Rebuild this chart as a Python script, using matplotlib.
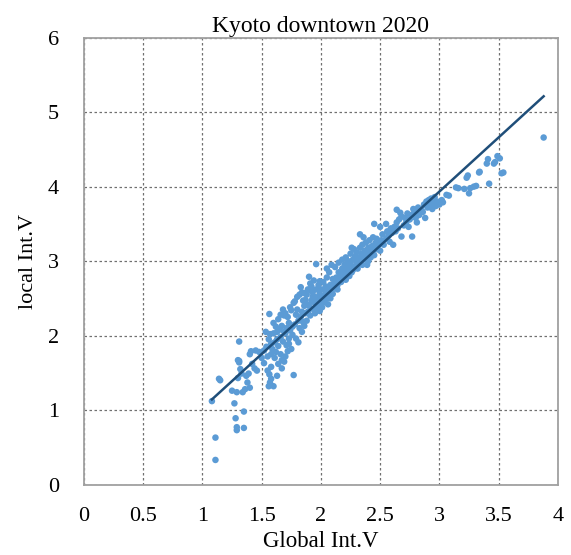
import numpy as np
import matplotlib.pyplot as plt

# valores (Global Int.V x local Int.V)
glob_baixo = [1.11, 1.11, 1.08, 1.14, 1.15, 1.27, 1.28, 1.29, 1.29, 1.35, 1.35, 1.29, 1.34, 1.30, 1.31,
              1.31, 1.31, 1.39, 1.38, 1.40, 1.41, 1.37, 1.33, 1.30, 1.44, 1.46, 1.48, 1.32, 1.36, 1.42,
              1.45, 1.25, 1.40]
loc_baixo = [0.33, 0.63, 1.12, 1.42, 1.40, 1.09, 0.89, 0.77, 0.73, 0.76, 0.98, 1.24, 1.24, 1.67, 1.64,
             1.66, 1.92, 1.49, 1.37, 1.30, 1.79, 1.46, 1.49, 1.43, 1.56, 1.53, 1.78, 1.55, 1.28, 1.62,
             1.80, 1.26, 1.75]

glob_15 = [1.50, 1.52, 1.535, 1.565, 1.56, 1.57, 1.60, 1.55, 1.565, 1.58, 1.63, 1.55, 1.58, 1.61, 1.58,
           1.61, 1.64, 1.60, 1.63, 1.66, 1.64, 1.67, 1.69, 1.66, 1.67, 1.69, 1.70, 1.72, 1.75, 1.73,
           1.70, 1.73, 1.76, 1.70, 1.72, 1.73, 1.71, 1.74, 1.75, 1.77, 1.52, 1.54, 1.56, 1.57, 1.59,
           1.62, 1.63, 1.65, 1.68, 1.69, 1.62, 1.60, 1.66, 1.68, 1.71, 1.74, 1.76, 1.67, 1.77, 1.58,
           1.64]
loc_15 = [1.70, 1.63, 2.05, 2.29, 1.32, 1.37, 1.32, 1.53, 1.48, 1.58, 1.46, 1.72, 1.75, 1.70, 1.89,
          1.91, 1.86, 2.03, 2.05, 1.98, 2.22, 2.13, 2.27, 1.75, 1.67, 1.65, 1.72, 1.79, 1.82, 1.89,
          2.03, 1.96, 2.01, 2.30, 2.25, 2.17, 2.10, 2.38, 2.34, 2.44, 1.80, 1.85, 1.95, 2.02, 1.82,
          1.78, 1.95, 2.08, 1.92, 2.05, 2.12, 2.17, 2.28, 2.35, 1.87, 2.07, 2.12, 1.56, 1.47, 1.42,
          1.62]

glob_18 = [1.78, 1.80, 1.82, 1.83, 1.84, 1.79, 1.81, 1.83, 1.85, 1.82, 1.86, 1.80, 1.78, 1.79, 1.81,
           1.84, 1.86, 1.87, 1.88, 1.89, 1.90, 1.91, 1.92, 1.93, 1.94, 1.95, 1.96, 1.89, 1.90, 1.91,
           1.93, 1.94, 1.95, 1.96, 1.96, 1.97, 1.98, 1.98, 1.99, 2.00, 2.00, 2.01, 2.02, 2.02, 2.03,
           2.04, 2.04, 2.05, 2.06, 2.06, 2.07, 2.08, 2.08, 2.09, 2.10, 2.10, 1.87, 1.88, 1.92, 1.97,
           1.99, 2.01, 2.03, 2.05, 1.85, 1.86, 1.84, 1.88, 1.93, 1.99, 2.00, 2.07, 2.05, 2.09, 1.92,
           1.95]
loc_18 = [2.46, 2.52, 2.55, 2.65, 2.58, 2.28, 2.20, 2.25, 2.18, 2.10, 2.13, 2.35, 2.15, 1.96, 1.91,
          2.32, 2.40, 2.48, 2.55, 2.62, 2.79, 2.70, 2.66, 2.58, 2.74, 2.52, 2.62, 2.32, 2.40, 2.27,
          2.36, 2.45, 2.30, 2.38, 2.96, 2.50, 2.44, 2.68, 2.56, 2.40, 2.62, 2.48, 2.53, 2.72, 2.45,
          2.58, 2.66, 2.50, 2.62, 2.42, 2.55, 2.68, 2.50, 2.60, 2.76, 2.56, 2.30, 2.20, 2.47, 2.36,
          2.33, 2.38, 2.62, 2.78, 2.47, 2.57, 2.05, 2.42, 2.52, 2.73, 2.52, 2.85, 2.90, 2.95, 2.60,
          2.45]

glob_21 = [2.11, 2.12, 2.12, 2.13, 2.14, 2.15, 2.15, 2.16, 2.17, 2.18, 2.18, 2.19, 2.20, 2.20, 2.21,
           2.22, 2.22, 2.23, 2.24, 2.25, 2.25, 2.26, 2.27, 2.28, 2.28, 2.29, 2.30, 2.30, 2.31, 2.32,
           2.33, 2.33, 2.34, 2.34, 2.35, 2.35, 2.36, 2.37, 2.38, 2.38, 2.39, 2.40, 2.40, 2.41, 2.42,
           2.42, 2.43, 2.44, 2.44, 2.45, 2.45, 2.46, 2.47, 2.47, 2.48, 2.49, 2.50, 2.50, 2.14, 2.17,
           2.21, 2.24, 2.26, 2.36, 2.39, 2.27, 2.31]
loc_21 = [2.65, 2.72, 2.92, 2.78, 2.68, 2.85, 2.98, 2.75, 2.82, 2.90, 3.02, 2.78, 2.86, 2.95, 3.05,
          2.82, 2.92, 3.00, 2.88, 3.10, 2.96, 2.85, 3.02, 3.16, 2.92, 3.06, 2.98, 3.12, 2.90, 3.04,
          3.36, 3.18, 3.00, 3.10, 3.22, 2.95, 3.06, 3.14, 3.02, 3.25, 3.10, 3.18, 3.00, 3.28, 3.12,
          3.05, 3.20, 3.32, 3.14, 3.50, 3.08, 3.24, 3.16, 3.30, 3.20, 3.26, 3.46, 3.14, 2.62, 2.72,
          2.75, 2.80, 3.18, 3.32, 2.95, 2.88, 3.02]

glob_25 = [2.51, 2.52, 2.53, 2.55, 2.55, 2.56, 2.57, 2.58, 2.59, 2.60, 2.61, 2.62, 2.63, 2.64, 2.64,
           2.65, 2.66, 2.67, 2.68, 2.68, 2.70, 2.71, 2.72, 2.73, 2.74, 2.75, 2.76, 2.77, 2.78, 2.79,
           2.80, 2.82, 2.83, 2.85, 2.87, 2.88, 2.89, 2.90, 2.91, 2.92, 2.93, 2.94, 2.95, 2.96, 2.97,
           2.98, 3.00, 3.02, 3.03, 2.86, 2.81]
loc_25 = [3.28, 3.36, 3.22, 3.50, 3.30, 3.40, 3.34, 3.26, 3.44, 3.38, 3.22, 3.46, 3.40, 3.69, 3.52,
          3.44, 3.56, 3.65, 3.60, 3.33, 3.48, 3.58, 3.52, 3.64, 3.46, 3.56, 3.62, 3.33, 3.70, 3.66,
          3.58, 3.72, 3.62, 3.68, 3.76, 3.58, 3.80, 3.72, 3.82, 3.76, 3.84, 3.70, 3.78, 3.86, 3.74,
          3.80, 3.76, 3.82, 3.79, 3.66, 3.52]

glob_alto = [3.06, 3.08, 3.14, 3.16, 3.21, 3.25, 3.26, 3.23, 3.24, 3.29, 3.31, 3.335, 3.34, 3.42,
             3.40, 3.41, 3.46, 3.49, 3.51, 3.47, 3.525, 3.54, 3.88]
loc_alto = [3.89, 3.88, 3.99, 3.98, 3.97, 3.91, 3.98, 4.12, 4.15, 4.00, 4.01, 4.19, 4.20, 4.04,
            4.31, 4.37, 4.31, 4.41, 4.38, 4.33, 4.18, 4.19, 4.66]

# reta de regressao mostrada no grafico
coef_angular = 1.454
coef_linear = -0.428

x_pts = np.array(glob_baixo + glob_15 + glob_18 + glob_21 + glob_25 + glob_alto)
y_pts = np.array(loc_baixo + loc_15 + loc_18 + loc_21 + loc_25 + loc_alto)

plt.rcParams['font.family'] = ['Liberation Serif', 'DejaVu Serif']

fig = plt.figure(figsize=(5.71, 5.55), dpi=100)
ax = fig.add_axes([0.147, 0.127, 0.83, 0.805])

ax.scatter(x_pts, y_pts, s=22, color='#5B9BD5', edgecolors='none', zorder=3)
x_reta = np.array([x_pts.min(), x_pts.max()])
ax.plot(x_reta, coef_angular * x_reta + coef_linear, color='#1F4E79', lw=1.8, zorder=4)

ax.set_xlim(0, 4)
ax.set_ylim(0, 6)
ax.set_xticks(np.arange(0, 4.01, 0.5))
ax.set_xticklabels(['0', '0.5', '1', '1.5', '2', '2.5', '3', '3.5', '4'])
ax.set_yticks(range(0, 7))
ax.grid(True, color='#707070', linestyle=(0, (2, 2)), linewidth=0.9)
ax.tick_params(length=0, labelsize=16)
ax.tick_params(axis='x', pad=16)
ax.tick_params(axis='y', pad=18)
for s in ax.spines.values():
    s.set_color('#A0A0A0')
    s.set_linewidth(1.3)

ax.set_title('Kyoto downtown 2020', fontsize=17, pad=4)
ax.set_xlabel('Global Int.V', fontsize=16.5, labelpad=4)
ax.set_ylabel('local Int.V', fontsize=16, labelpad=7)

plt.savefig('out.png', dpi=100)
